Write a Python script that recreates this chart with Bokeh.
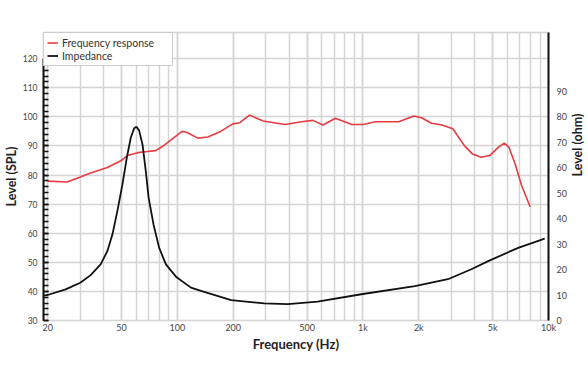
import math
from bokeh.plotting import figure
from bokeh.models import Range1d, LinearAxis, FixedTicker, Legend, LegendItem
from bokeh.embed import file_html
from bokeh.resources import INLINE

# Frequency response (dB SPL, left axis)
freq_fr = [20, 25.5, 30, 34.1, 42, 49.6, 53.8, 61.1, 69, 76.5, 83, 92.5, 106, 112,
           129, 146, 171, 199, 217, 245, 290, 380, 467, 537, 610, 710, 873, 1000,
           1170, 1560, 1880, 2070, 2340, 2640, 3050, 3520, 3900, 4340, 4820, 5360,
           5780, 6130, 6610, 7170, 7960]
spl_fr = [77.9, 77.6, 79.3, 80.7, 82.6, 84.9, 86.7, 87.7, 88.1, 88.4, 89.8, 92.1,
          95.0, 94.7, 92.7, 93.1, 95.0, 97.6, 98.0, 100.6, 98.6, 97.4, 98.3, 98.8,
          97.2, 99.5, 97.4, 97.4, 98.3, 98.3, 100.3, 99.7, 97.8, 97.3, 95.9, 90.1,
          87.2, 86.1, 86.7, 89.5, 91.0, 89.5, 83.8, 76.3, 69.1]

# Impedance (ohm, right axis)
freq_imp = [19, 20, 25, 30, 34.1, 38.6, 42, 44.7, 47.5, 50.6, 53.4, 56.1, 58.5, 60.2,
            62.2, 64.9, 67.6, 70, 74.4, 79.8, 86.8, 98.3, 118.4, 134, 195, 294, 394,
            570, 980, 1906, 2870, 3840, 4732, 6860, 9540]
ohm_imp = [9.8, 10.0, 12.2, 14.8, 17.8, 22.0, 27.3, 33.8, 42.9, 53.4, 63.8, 71.7,
           75.4, 76.0, 74.6, 69.1, 58.6, 48.2, 37.7, 28.5, 22.0, 17.2, 12.9, 11.6,
           8.0, 6.7, 6.4, 7.4, 10.3, 13.5, 16.2, 20.1, 23.3, 28.5, 32.1]

x_major = [20, 50, 100, 200, 500, 1000, 2000, 5000, 10000]
x_labels = ["20", "50", "100", "200", "500", "1k", "2k", "5k", "10k"]
x_minor = [20, 30, 40, 50, 60, 70, 80, 90, 100, 200, 300, 400, 500, 600, 700, 800,
           900, 1000, 2000, 3000, 4000, 5000, 6000, 7000, 8000, 9000, 10000]
spl_ticks = list(range(30, 121, 10))
spl_minor = list(range(30, 121, 2))
ohm_ticks = list(range(0, 91, 10))

FONT = "Lato"
GRID = "#d4d4d4"
TICK_COLOR = "#444444"
TITLE_COLOR = "#222222"

p = figure(frame_width=505, frame_height=288, x_axis_type="log",
           x_range=Range1d(19.0, 10000), y_range=Range1d(30, 129),
           output_backend="svg", toolbar_location=None,
           min_border_left=41, min_border_right=42, min_border_top=32,
           min_border_bottom=44)
p.extra_y_ranges = {"ohm": Range1d(0, 113)}
p.outline_line_color = GRID
p.outline_line_width = 1.5
p.background_fill_color = "white"
p.border_fill_color = "white"

# x axis
xa = p.xaxis[0]
xa.ticker = FixedTicker(ticks=x_major, minor_ticks=x_minor)
xa.major_label_overrides = {k: v for k, v in zip(x_major, x_labels)}
xa.axis_line_color = None
xa.major_tick_line_color = None
xa.minor_tick_line_color = None
xa.major_tick_in = 0
xa.major_tick_out = 0
xa.minor_tick_in = 0
xa.minor_tick_out = 0
xa.major_label_standoff = 1
xa.major_label_text_font = FONT
xa.major_label_text_font_size = "9px"
xa.major_label_text_color = TICK_COLOR
xa.axis_label = "Frequency (Hz)"
xa.axis_label_text_font = FONT
xa.axis_label_text_font_style = "bold"
xa.axis_label_text_font_size = "13px"
xa.axis_label_text_color = TITLE_COLOR
xa.axis_label_standoff = 0

p.xgrid.grid_line_color = GRID
p.xgrid.grid_line_width = 1.5
p.xgrid.minor_grid_line_color = GRID
p.xgrid.minor_grid_line_width = 1.5

# left axis
ya = p.yaxis[0]
ya.ticker = FixedTicker(ticks=spl_ticks, minor_ticks=spl_minor)
ya.bounds = (30, 120)
ya.axis_line_color = "#111111"
ya.axis_line_width = 2
ya.major_tick_in = 5
ya.major_tick_out = 0
ya.minor_tick_in = 5
ya.minor_tick_out = 0
ya.major_tick_line_color = "#111111"
ya.minor_tick_line_color = "#111111"
ya.major_tick_line_width = 1.5
ya.minor_tick_line_width = 1.5
ya.major_label_standoff = 6
ya.major_label_text_font = FONT
ya.major_label_text_font_size = "8.5px"
ya.major_label_text_color = TICK_COLOR
ya.axis_label = "Level (SPL)"
ya.axis_label_text_font = FONT
ya.axis_label_text_font_style = "bold"
ya.axis_label_text_font_size = "12.5px"
ya.axis_label_text_color = TITLE_COLOR
ya.axis_label_standoff = 1

p.ygrid.grid_line_color = GRID
p.ygrid.grid_line_width = 1.5

# right axis
ra = LinearAxis(y_range_name="ohm")
ra.ticker = FixedTicker(ticks=ohm_ticks, minor_ticks=[])
ra.axis_line_color = "#111111"
ra.axis_line_width = 2
ra.major_tick_line_color = None
ra.minor_tick_line_color = None
ra.major_tick_in = 0
ra.major_tick_out = 0
ra.minor_tick_in = 0
ra.minor_tick_out = 0
ra.major_label_standoff = 8
ra.major_label_text_font = FONT
ra.major_label_text_font_size = "9px"
ra.major_label_text_color = TICK_COLOR
ra.axis_label = "Level (ohm)"
ra.axis_label_text_font = FONT
ra.axis_label_text_font_style = "bold"
ra.axis_label_text_font_size = "12.5px"
ra.axis_label_text_color = TITLE_COLOR
ra.axis_label_standoff = 8
try:
    ra.axis_label_orientation = math.pi / 2
except Exception:
    pass
p.add_layout(ra, "right")

r1 = p.line(freq_fr, spl_fr, line_color="#e63b42", line_width=1.6)
r2 = p.line(freq_imp, ohm_imp, y_range_name="ohm", line_color="#111111", line_width=1.8)

legend = Legend(items=[LegendItem(label="Frequency response", renderers=[r1]),
                       LegendItem(label="Impedance", renderers=[r2])],
                location="top_left")
legend.padding = 3
legend.spacing = 0
legend.margin = 0
legend.label_height = 13
legend.glyph_height = 13
legend.glyph_width = 11
legend.label_standoff = 4
legend.label_width = 107
legend.label_text_font = FONT
legend.label_text_font_size = "10.5px"
legend.label_text_color = "#333333"
legend.border_line_color = "#999999"
legend.border_line_width = 1
legend.background_fill_color = "white"
legend.background_fill_alpha = 1
p.add_layout(legend)

open("out.html", "w").write(file_html(p, INLINE))
